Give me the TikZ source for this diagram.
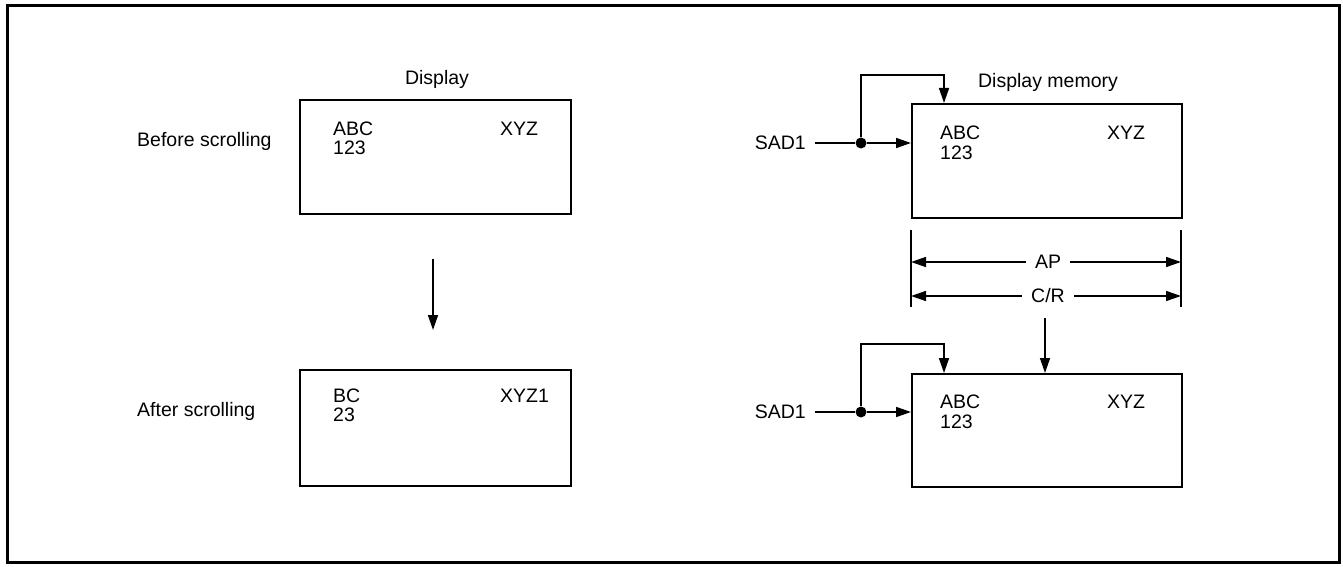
\documentclass[tikz,border=0pt]{standalone}
\usepackage{fontspec}
\setmainfont{Liberation Sans}
\usetikzlibrary{arrows.meta}
\begin{document}
\begin{tikzpicture}[x=1pt,y=-1pt,
  box/.style={draw,line width=1.8pt,anchor=north west,inner sep=0pt},
  txt/.style={inner sep=0pt,font=\fontsize{19.5}{21}\selectfont},
  lbl/.style={inner sep=0pt,anchor=west,font=\fontsize{19.5}{21}\selectfont},
  arr/.style={line width=1.5pt,-{Triangle[length=15pt,width=10pt]}},
  ln/.style={line width=1.5pt},
  dim/.style={line width=1.5pt,{Triangle[length=15pt,width=10pt]}-{Triangle[length=15pt,width=10pt]}},
  dotc/.style={circle,fill,inner sep=0pt,minimum size=11pt}]
\useasboundingbox (0,0) rectangle (1343,567);
\draw[line width=3pt] (7,6) rectangle (1339,562);

% left side
\node[txt] (disp) at (437,79) {Display};
\node[txt,anchor=west] (before) at (137,141) {Before scrolling};
\node[txt,anchor=west] (after) at (137,411) {After scrolling};
\node[box,minimum width=271pt,minimum height=114pt] (d1) at (299,99) {};
\node[box,minimum width=271pt,minimum height=116pt] (d2) at (299,369) {};
\node[lbl] (d1a) at (333,129) {ABC};
\node[lbl] (d1b) at (333,148) {123};
\node[lbl] (d1c) at (500,129) {XYZ};
\node[lbl] (d2a) at (333,396) {BC};
\node[lbl] (d2b) at (333,415) {23};
\node[lbl] (d2c) at (500,396) {XYZ1};
\coordinate (la1) at (433,259);
\coordinate (la2) at (433,330);
\draw[arr] (la1) -- (la2);

% right side
\node[txt] (dmem) at (1048,82) {Display memory};
\node[box,minimum width=270pt,minimum height=114pt] (m1) at (911,103) {};
\node[box,minimum width=270pt,minimum height=113pt] (m2) at (911,373) {};
\node[lbl] (m1a) at (940,133) {ABC};
\node[lbl] (m1b) at (940,153) {123};
\node[lbl] (m1c) at (1107,133) {XYZ};
\node[lbl] (m2a) at (940,402) {ABC};
\node[lbl] (m2b) at (940,422) {123};
\node[lbl] (m2c) at (1107,402) {XYZ};

\node[txt,anchor=east] (sad1) at (806,143) {SAD1};
\node[dotc] (dot1) at (861,143) {};
\coordinate (c1) at (944,75);
\draw[ln] (sad1.east) ++(9pt,0) -- (dot1);
\draw[arr] (dot1) -- (dot1 -| m1.west);
\draw[arr] (dot1) |- (c1) -- (c1 |- m1.north);

\node[txt,anchor=east] (sad2) at (806,412) {SAD1};
\node[dotc] (dot2) at (861,412) {};
\coordinate (c2) at (944,344);
\draw[ln] (sad2.east) ++(9pt,0) -- (dot2);
\draw[arr] (dot2) -- (dot2 -| m2.west);
\draw[arr] (dot2) |- (c2) -- (c2 |- m2.north);

% dimension lines
\coordinate (v1t) at (911,230);
\coordinate (v1b) at (911,307);
\coordinate (v2t) at (1181,230);
\coordinate (v2b) at (1181,307);
\draw[ln] (v1t) -- (v1b);
\draw[ln] (v2t) -- (v2b);
\coordinate (ap1) at (911,262);
\coordinate (ap2) at (1181,262);
\coordinate (cr1) at (911,296);
\coordinate (cr2) at (1181,296);
\draw[dim] (ap1) -- (ap2);
\draw[dim] (cr1) -- (cr2);
\node[txt,fill=white,inner xsep=9pt,inner ysep=2pt] (ap) at (1048,262) {AP};
\node[txt,fill=white,inner xsep=9pt,inner ysep=2pt] (cr) at (1048,296) {C/R};
\coordinate (ra1) at (1045,318);
\draw[arr] (ra1) -- (ra1 |- m2.north);
\end{tikzpicture}
\end{document}
